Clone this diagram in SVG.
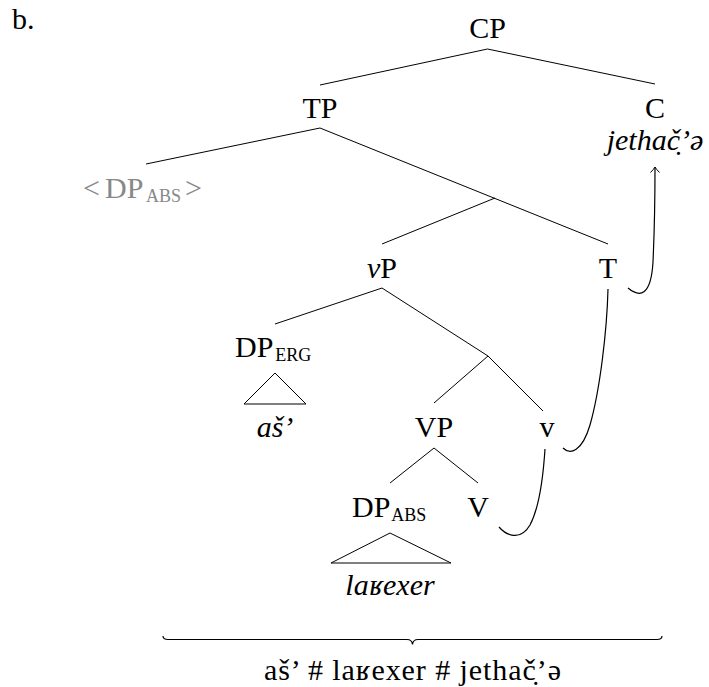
<svg xmlns="http://www.w3.org/2000/svg" width="709" height="687" viewBox="0 0 709 687">
<style>
text{font-family:"Liberation Serif","DejaVu Serif",serif;font-size:30px;fill:#000}
.it{font-style:italic}
.sub{font-size:18px}
.mid{text-anchor:middle}
.gray{fill:#888}
.edge{stroke:#000;stroke-width:1;fill:none}
.mv{stroke:#000;stroke-width:1.2;fill:none}
.tri{stroke:#000;stroke-width:1;fill:none;stroke-linejoin:miter}
</style>
<defs>
<marker id="arr" viewBox="-7 -6 8 12" refX="0" refY="0" markerWidth="8" markerHeight="12" orient="auto" markerUnits="userSpaceOnUse">
<path d="M-5.5,-4.5 Q-2,-1 0,0 Q-2,1 -5.5,4.5" fill="none" stroke="#000" stroke-width="1"/>
</marker>
</defs>
<text id="label-b" x="12" y="29">b.</text>
<g id="edges">
<line class="edge" x1="487.5" y1="49" x2="320" y2="85"/>
<line class="edge" x1="487.5" y1="49" x2="655" y2="84"/>
<line class="edge" x1="320" y1="128" x2="146" y2="164"/>
<line class="edge" x1="320" y1="128" x2="608" y2="244"/>
<line class="edge" x1="495" y1="198" x2="382" y2="244"/>
<line class="edge" x1="382" y1="288" x2="275" y2="324"/>
<line class="edge" x1="382" y1="288" x2="488" y2="356"/>
<line class="edge" x1="488" y1="356" x2="434" y2="403"/>
<line class="edge" x1="488" y1="356" x2="543" y2="411"/>
<line class="edge" x1="434" y1="448" x2="390" y2="483"/>
<line class="edge" x1="434" y1="448" x2="478" y2="483"/>
<path class="mv" d="M499,527 C506,535 520,542 530,525 C538,510 543,480 545,449"/>
<path class="mv" d="M563,448 C570,455 582,452 590,425 C600,390 607,330 608,289"/>
<path class="mv" d="M628,288 C640,298 651,296 653,262 C654,240 655,200 655,167" marker-end="url(#arr)"/>
<path class="mv" d="M163,636 Q163,639.5 168,639.5 L407,639.5 Q412,639.5 412.5,644.5 Q413,639.5 418,639.5 L657,639.5 Q662,639.5 662,636"/>
</g>
<g id="node-CP"><text class="mid" x="487.5" y="38">CP</text></g>
<g id="node-TP"><text class="mid" x="320" y="118">TP</text></g>
<g id="node-C"><text class="mid" x="655" y="118">C</text><text class="mid it" x="655" y="150">jethač̣’ə</text></g>
<g id="node-DPabs-trace"><text class="gray" x="83" y="198">&lt;<tspan x="105">DP</tspan><tspan class="sub" x="146" dy="4">ABS</tspan><tspan x="185" dy="-4">&gt;</tspan></text></g>
<g id="node-vP"><text class="mid" x="382" y="278"><tspan class="it">v</tspan>P</text></g>
<g id="node-T"><text class="mid" x="608" y="278">T</text></g>
<g id="node-DPerg"><text x="235" y="357">DP<tspan class="sub" dx="2" dy="4">ERG</tspan></text>
<polygon class="tri" points="275,373 244,404 306,404"/>
<text class="mid it" x="275" y="437">aš’</text></g>
<g id="node-VP"><text class="mid" x="434" y="437">VP</text></g>
<g id="node-v"><text class="mid" x="547" y="437">v</text></g>
<g id="node-DPabs"><text x="352" y="517">DP<tspan class="sub" dx="1" dy="4">ABS</tspan></text>
<polygon class="tri" points="390,533 331,563 451,563"/>
<text class="mid it" x="390" y="595">laʁexer</text></g>
<g id="node-V"><text class="mid" x="478" y="517">V</text></g>
<g id="bottom-string"><text x="264" y="680" textLength="297" lengthAdjust="spacing">aš’ # laʁexer # jethač̣’ə</text></g>
</svg>
